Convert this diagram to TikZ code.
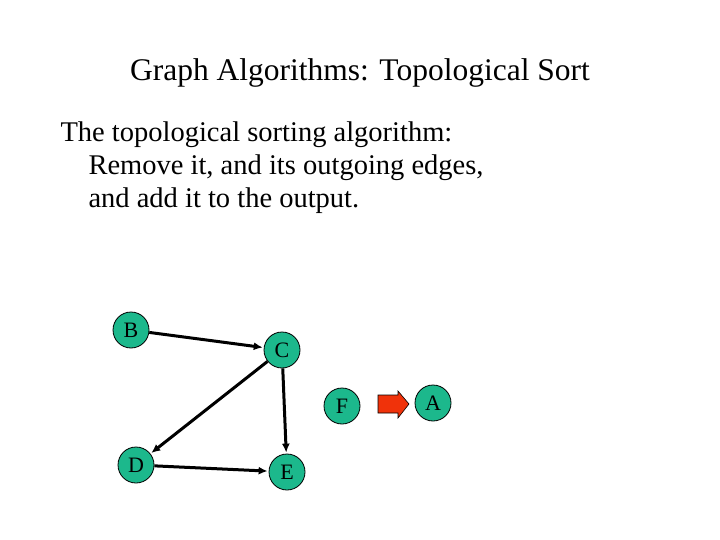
\documentclass[tikz,border=0pt]{standalone}
\usepackage{fontspec}
\setmainfont{Liberation Serif}
\usetikzlibrary{arrows.meta}
\definecolor{nodegreen}{RGB}{28,184,140}
\definecolor{arrred}{RGB}{240,50,10}
\begin{document}
\begin{tikzpicture}[x=1pt,y=-1pt,
  vert/.style={circle,draw=black,line width=0.8pt,fill=nodegreen,minimum size=36pt,inner sep=0pt,font=\fontsize{22}{24}\selectfont},
  edge/.style={-{Latex[length=9pt,width=8pt]},line width=3pt,shorten >=1pt}]
\useasboundingbox (0,0) rectangle (720,540);
\node[font=\fontsize{31.5}{34}\selectfont] (title) at (360,73) {Graph Algorithms: Topological Sort};
\node[anchor=west,font=\fontsize{28.5}{32}\selectfont] (l1) at (57,135) {The topological sorting algorithm:};
\node[anchor=west,font=\fontsize{28.5}{32}\selectfont] (l2) at (85,168) {Remove it, and its outgoing edges,};
\node[anchor=west,font=\fontsize{28.5}{32}\selectfont] (l3) at (85,201) {and add it to the output.};
\node[vert] (B) at (131,330) {B};
\node[vert] (C) at (282,350) {C};
\node[vert] (D) at (136,465) {D};
\node[vert] (E) at (287,472) {E};
\node[vert] (F) at (342,406) {F};
\node[vert] (A) at (433,403) {A};
\draw[draw=black,fill=arrred,line width=0.6pt] (378,395) -- (398,395) -- (398,391) -- (409,404) -- (398,418) -- (398,413) -- (378,413) -- cycle;
\draw[edge] (B) -- (C);
\draw[edge] (C) -- (D);
\draw[edge] (C) -- (E);
\draw[edge] (D) -- (E);
\end{tikzpicture}
\end{document}
